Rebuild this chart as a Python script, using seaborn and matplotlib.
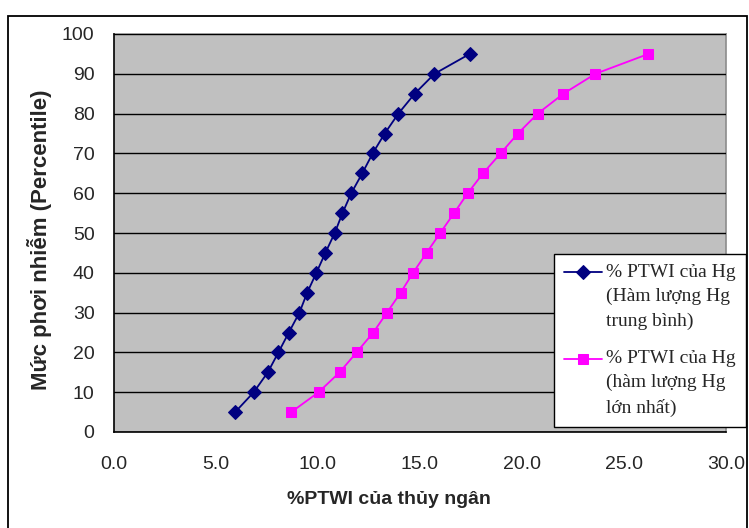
import matplotlib
matplotlib.use("Agg")
import matplotlib.pyplot as plt
import matplotlib.transforms as mtransforms
from matplotlib.legend_handler import HandlerLine2D
from matplotlib.patches import Rectangle
import seaborn as sns
import pandas as pd

# ---- data ----
percentiles = [5, 10, 15, 20, 25, 30, 35, 40, 45, 50, 55, 60, 65, 70, 75, 80, 85, 90, 95]
ptwi_mean = [5.94, 6.85, 7.54, 8.06, 8.57, 9.09, 9.47, 9.92, 10.36, 10.82,
             11.20, 11.63, 12.17, 12.68, 13.27, 13.94, 14.74, 15.71, 17.44]
ptwi_max = [8.69, 10.03, 11.06, 11.89, 12.71, 13.38, 14.05, 14.66, 15.32, 15.99,
            16.67, 17.34, 18.09, 18.95, 19.80, 20.77, 22.03, 23.60, 26.20]
label_mean = "% PTWI của Hg\n(Hàm lượng Hg\ntrung bình)"
label_max = "% PTWI của Hg\n(hàm lượng Hg\nlớn nhất)"
x_ticks = [0, 5, 10, 15, 20, 25, 30]
y_ticks = [0, 10, 20, 30, 40, 50, 60, 70, 80, 90, 100]
x_title = "%PTWI của thủy ngân"
y_title = "Mức phơi nhiễm (Percentile)"

sns.set_style("white")
plt.rcParams["font.family"] = ["Liberation Sans", "DejaVu Sans"]

W, H = 749, 528
fig = plt.figure(figsize=(W / 100, H / 100), dpi=100)
ax = fig.add_axes([114 / W, 1 - 432 / H, 612 / W, 398 / H])
ax.set_facecolor("#C0C0C0")

df_mean = pd.DataFrame({"x": ptwi_mean, "y": percentiles})
df_max = pd.DataFrame({"x": ptwi_max, "y": percentiles})

sns.lineplot(data=df_mean, x="x", y="y", sort=False, ax=ax, color="#000080",
             marker="D", markersize=7, markeredgecolor="#000080", linewidth=1.3,
             label=label_mean, zorder=3)
sns.lineplot(data=df_max, x="x", y="y", sort=False, ax=ax, color="#FF00FF",
             marker="s", markersize=7.5, markeredgecolor="#FF00FF", linewidth=1.3,
             label=label_max, zorder=3)

ax.set_xlim(0, 30)
ax.set_ylim(0, 100)
ax.set_xticks(x_ticks)
ax.set_xticklabels([f"{v:.1f}" for v in x_ticks])
ax.set_yticks(y_ticks)
ax.set_yticklabels([str(v) for v in y_ticks])
ax.yaxis.grid(True, color="black", linewidth=1.0)
ax.xaxis.grid(False)
ax.set_axisbelow(True)

for s in ["left", "bottom"]:
    ax.spines[s].set_color("black")
    ax.spines[s].set_linewidth(1.2)
for s in ["top", "right"]:
    ax.spines[s].set_color("#8C8C8C")
    ax.spines[s].set_linewidth(1.2)
    ax.spines[s].set_zorder(0.5)

ax.tick_params(axis="both", direction="out", length=5, width=1.0, color="black",
               labelsize=14)
ax.tick_params(axis="x", pad=12)
ax.tick_params(axis="y", pad=9)

ax.set_xlabel(x_title, fontsize=14, fontweight="bold")
ax.set_ylabel(y_title, fontsize=16, fontweight="bold")
ax.xaxis.set_label_coords((389 - 114) / 612, -(500 - 432) / 398)
ax.yaxis.set_label_coords((40 - 114) / 612, (432 - 240) / 398)
ax.xaxis.label.set_va("center")
ax.yaxis.label.set_va("center")


class TopHandler(HandlerLine2D):
    def __init__(self, shift, **kw):
        super().__init__(**kw)
        self.shift = shift

    def create_artists(self, legend, orig_handle, xdescent, ydescent, width,
                       height, fontsize, trans):
        arts = super().create_artists(legend, orig_handle, xdescent, ydescent,
                                      width, height, fontsize, trans)
        t = mtransforms.Affine2D().translate(0, self.shift) + trans
        for a in arts:
            a.set_transform(t)
        return arts


handles, labels = ax.get_legend_handles_labels()
shift_pts = 24.4 * 72 / 100
leg = ax.legend(handles, labels, loc="upper left",
                bbox_to_anchor=(554 / W, 1 - 254 / H),
                bbox_transform=fig.transFigure, borderaxespad=0,
                prop={"family": ["Liberation Serif", "DejaVu Serif"], "size": 14},
                frameon=True, fancybox=False, edgecolor="black", framealpha=1,
                handlelength=1.95, handletextpad=0.25, borderpad=0.5,
                labelspacing=1.0,
                handler_map={h: TopHandler(shift_pts) for h in handles})
leg.get_frame().set_linewidth(1.0)
for t in leg.get_texts():
    t.set_linespacing(1.56)
leg.set_zorder(10)

frame = Rectangle((8 / W, -0.2), (747 - 8) / W, 1.2 - 16 / H,
                  transform=fig.transFigure, fill=False, edgecolor="black",
                  linewidth=1.3, zorder=-1)
fig.patches.append(frame)

fig.savefig("out.png", dpi=100)
